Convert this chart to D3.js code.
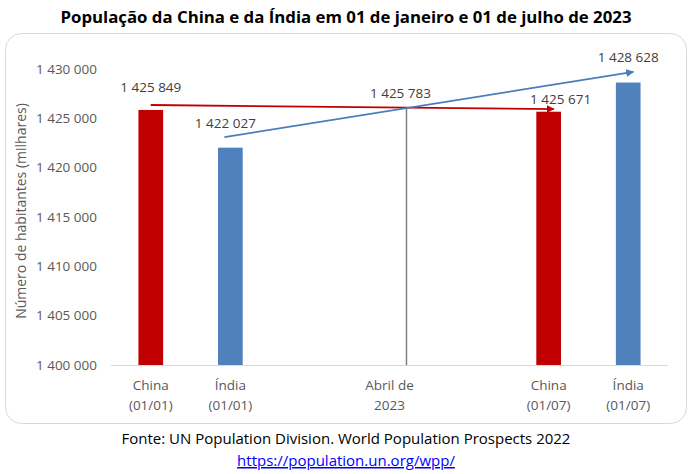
<!DOCTYPE html>
<html>
<head>
<meta charset="utf-8">
<script src="https://cdn.jsdelivr.net/npm/d3@7"></script>
<style>
  body { margin: 0; background: #fff; }
  svg text { font-family: "Open Sans", "Noto Sans", sans-serif; }
</style>
</head>
<body>
<svg id="chart" width="693" height="474"></svg>
<script>
// categorias do eixo x (vazias = espacos)
var categories = ["China|(01/01)", "Índia|(01/01)", "e1", "Abril de|2023", "e2", "China|(01/07)", "Índia|(01/07)"];
// barras (milhares de habitantes)
var barCats   = ["China|(01/01)", "Índia|(01/01)", "China|(01/07)", "Índia|(01/07)"];
var barValues = [1425849, 1422027, 1425671, 1428628];
var barColors = ["#c00000", "#4f81bd", "#c00000", "#4f81bd"];
// setas: categoria inicial/final e valores aproximados nas pontas
var arrowFrom   = ["China|(01/01)", "Índia|(01/01)"];
var arrowTo     = ["China|(01/07)", "Índia|(01/07)"];
var arrowStart  = [1426350, 1423100];
var arrowEnd    = [1425940, 1429700];
var arrowColors = ["#c00000", "#4a7ebb"];
// valor no cruzamento (abril de 2023)
var crossValue = 1425783;
var yTicks = [1400000, 1405000, 1410000, 1415000, 1420000, 1425000, 1430000];

var svg = d3.select("#chart");
var fmt = function(v){ return d3.format(",")(v).replace(/,/g, " "); };

var x = d3.scaleBand().domain(categories).range([111, 668]).paddingInner(0.69).paddingOuter(0.345);
var y = d3.scaleLinear().domain([1400000, 1430000]).range([365, 69]);

// moldura
svg.append("rect").attr("x", 5.5).attr("y", 33.5).attr("width", 681).attr("height", 390)
  .attr("rx", 16).attr("fill", "#fff").attr("stroke", "#d9d9d9").attr("stroke-width", 1);

// titulo
svg.append("text").attr("x", 346).attr("y", 23).attr("text-anchor", "middle")
  .attr("font-size", 16.8).attr("font-weight", "bold").attr("fill", "#000")
  .text("População da China e da Índia em 01 de janeiro e 01 de julho de 2023");

// eixo y (so rotulos)
var yAxis = svg.append("g").attr("transform", "translate(97,0)")
  .call(d3.axisLeft(y).tickValues(yTicks).tickSize(0).tickPadding(0).tickFormat(fmt));
yAxis.select(".domain").remove();
yAxis.selectAll("text").attr("font-size", 13.5).attr("fill", "#595959")
  .attr("font-family", "'Open Sans', sans-serif");

svg.append("text").attr("transform", "translate(26,211) rotate(-90)")
  .attr("text-anchor", "middle").attr("font-size", 14).attr("fill", "#595959")
  .text("Número de habitantes (milhares)");

// barras
svg.selectAll("rect.bar").data(barValues).enter().append("rect").attr("class", "bar")
  .attr("x", function(d, i){ return x(barCats[i]); })
  .attr("width", x.bandwidth())
  .attr("y", function(d){ return y(d); })
  .attr("height", function(d){ return y(1400000) - y(d); })
  .attr("fill", function(d, i){ return barColors[i]; });

// eixo x
svg.append("line").attr("x1", 111).attr("x2", 668).attr("y1", y(1400000) + 0.5).attr("y2", y(1400000) + 0.5)
  .attr("stroke", "#d9d9d9").attr("stroke-width", 1);

var xl = svg.selectAll("g.xl").data(categories.filter(function(c){ return c.indexOf("|") > 0; }))
  .enter().append("g").attr("class", "xl")
  .attr("transform", function(d){ return "translate(" + (x(d) + x.bandwidth() / 2) + ",0)"; });
xl.selectAll("text").data(function(d){ return d.split("|"); }).enter().append("text")
  .attr("y", function(d, i){ return 390 + i * 20; })
  .attr("text-anchor", "middle").attr("font-size", 13.5).attr("fill", "#595959")
  .text(function(d){ return d; });

// rotulos de valor
var labelDx = [0, -5, 12, 0];
var labelDy = [-18, -20, -8, -21];
svg.selectAll("text.val").data(barValues).enter().append("text").attr("class", "val")
  .attr("x", function(d, i){ return x(barCats[i]) + x.bandwidth() / 2 + labelDx[i]; })
  .attr("y", function(d, i){ return y(d) + labelDy[i]; })
  .attr("text-anchor", "middle").attr("font-size", 13.5).attr("fill", "#404040")
  .text(fmt);

// setas
var defs = svg.append("defs");
arrowColors.forEach(function(c, i){
  defs.append("marker").attr("id", "arr" + i).attr("viewBox", "0 0 10 10")
    .attr("refX", 9).attr("refY", 5).attr("markerWidth", 8).attr("markerHeight", 8)
    .attr("markerUnits", "userSpaceOnUse").attr("orient", "auto")
    .append("path").attr("d", "M0,0 L10,5 L0,10 Z").attr("fill", c);
});
var pts = arrowColors.map(function(c, i){
  var step = x.step();
  var x1 = x(arrowFrom[i]) + x.bandwidth() / 2 + (i == 0 ? 0 : -0.075 * step);
  var x2 = x(arrowTo[i]) + x.bandwidth() / 2 + 0.065 * step;
  return [x1, y(arrowStart[i]), x2, y(arrowEnd[i])];
});

// linha vertical no cruzamento
var a = pts[0], b = pts[1];
var ma = (a[3] - a[1]) / (a[2] - a[0]), mb = (b[3] - b[1]) / (b[2] - b[0]);
var cx = (b[1] - a[1] + ma * a[0] - mb * b[0]) / (ma - mb);
var cy = a[1] + ma * (cx - a[0]);
svg.append("line").attr("x1", cx - 3).attr("x2", cx - 3).attr("y1", cy).attr("y2", y(1400000))
  .attr("stroke", "#7f7f7f").attr("stroke-width", 1.5);

pts.forEach(function(p, i){
  svg.append("line").attr("x1", p[0]).attr("y1", p[1]).attr("x2", p[2]).attr("y2", p[3])
    .attr("stroke", arrowColors[i]).attr("stroke-width", 1.8)
    .attr("marker-end", "url(#arr" + i + ")");
});

svg.append("text").attr("x", cx - 9).attr("y", cy - 10).attr("text-anchor", "middle")
  .attr("font-size", 13.5).attr("fill", "#404040").text(fmt(crossValue));

// fonte
svg.append("text").attr("x", 346).attr("y", 444).attr("text-anchor", "middle")
  .attr("font-size", 15).attr("fill", "#000")
  .text("Fonte: UN Population Division. World Population Prospects 2022");
svg.append("text").attr("x", 346).attr("y", 466).attr("text-anchor", "middle")
  .attr("font-size", 15).attr("fill", "#0000ff").attr("text-decoration", "underline")
  .text("https://population.un.org/wpp/");
</script>
</body>
</html>
